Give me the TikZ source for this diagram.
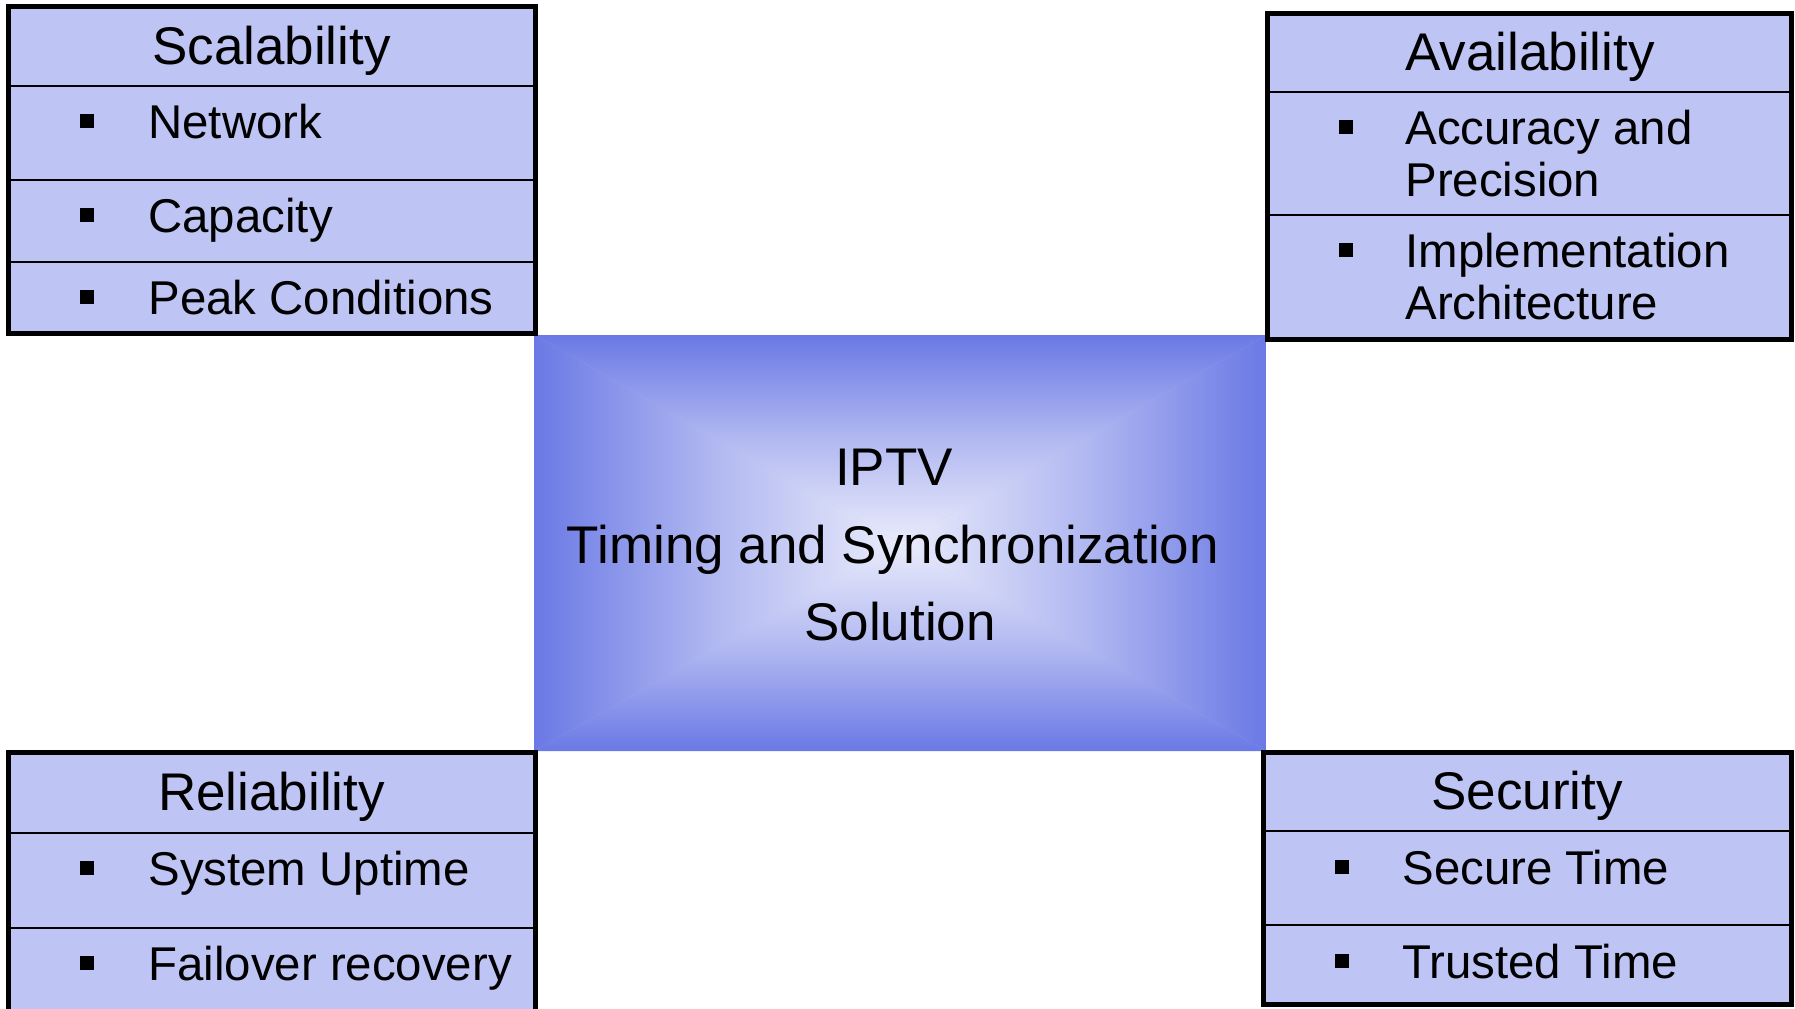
\documentclass[tikz,border=0pt]{standalone}
\usepackage{fontspec}
\setmainfont{Liberation Sans}
\definecolor{boxfill}{RGB}{190,196,243}
\definecolor{edgeblue}{RGB}{106,121,229}
\definecolor{midblue}{RGB}{178,185,241}
\definecolor{centerblue}{RGB}{234,236,251}
\tikzset{
  card/.style={draw=black, line width=2.5pt, fill=boxfill},
  divider/.style={draw=black, line width=1.2pt},
  ttl/.style={font=\fontsize{26.5pt}{30pt}\selectfont, anchor=base, inner sep=0pt},
  itm/.style={font=\fontsize{23.7pt}{28pt}\selectfont, anchor=base west, inner sep=0pt},
  ctext/.style={font=\fontsize{26.5pt}{30pt}\selectfont, anchor=base, inner sep=0pt},
  bul/.style={fill=black, rectangle, minimum size=7pt, inner sep=0pt},
}
\begin{document}
\begin{tikzpicture}[x=0.5pt, y=-0.5pt]
\useasboundingbox (0,0) rectangle (1795,1008);
\clip (0,0) rectangle (1795,1008);

% ---- centre box with rectangular gradient ----
\coordinate (cTL) at (534.5,335);
\coordinate (cTR) at (1266,335);
\coordinate (cBL) at (534.5,751);
\coordinate (cBR) at (1266,751);
\coordinate (cC) at (900.25,543);
\fill[midblue] (cTL) rectangle (cBR);
\begin{scope}
  \clip (cTL) -- (cTR) -- (cC) -- cycle;
  \shade[top color=edgeblue, bottom color=centerblue, middle color=midblue] (534.5,335) rectangle (1266,544);
\end{scope}
\begin{scope}
  \clip (cBL) -- (cBR) -- (cC) -- cycle;
  \shade[top color=centerblue, bottom color=edgeblue, middle color=midblue] (534.5,542) rectangle (1266,751);
\end{scope}
\begin{scope}
  \clip (cTL) -- (cBL) -- (cC) -- cycle;
  \shade[left color=edgeblue, right color=centerblue, middle color=midblue] (534.5,335) rectangle (901,751);
\end{scope}
\begin{scope}
  \clip (cTR) -- (cBR) -- (cC) -- cycle;
  \shade[left color=centerblue, right color=edgeblue, middle color=midblue] (899.5,335) rectangle (1266,751);
\end{scope}
\node[ctext] (c1) at (894,485) {IPTV};
\node[ctext] (c2) at (893,563) {Timing and Synchronization};
\node[ctext] (c3) at (900,640) {Solution};

% ---- Scalability (top left) ----
\draw[card] (8,6.5) rectangle (535,333.5);
\draw[divider] (8,86) -- (535,86);
\draw[divider] (8,180) -- (535,180);
\draw[divider] (8,262) -- (535,262);
\node[ttl] (s0) at (271.5,64) {Scalability};
\node[bul] (sb1) at (87,120.5) {};
\node[itm] (s1) at (148,138) {Network};
\node[bul] (sb2) at (87,214.5) {};
\node[itm] (s2) at (148,232) {Capacity};
\node[bul] (sb3) at (87,296.5) {};
\node[itm] (s3) at (148,314) {Peak Conditions};

% ---- Availability (top right) ----
\draw[card] (1267,13) rectangle (1791,339);
\draw[divider] (1267,92) -- (1791,92);
\draw[divider] (1267,215) -- (1791,215);
\node[ttl] (a0) at (1530,70) {Availability};
\node[bul] (ab1) at (1346,127) {};
\node[itm] (a1) at (1405,144) {Accuracy and};
\node[itm] (a1b) at (1405,196) {Precision};
\node[bul] (ab2) at (1346,250) {};
\node[itm] (a2) at (1405,267) {Implementation};
\node[itm] (a2b) at (1405,319) {Architecture};

% ---- Reliability (bottom left) ----
\draw[card] (8,752) rectangle (535,1040);
\draw[divider] (8,833) -- (535,833);
\draw[divider] (8,928) -- (535,928);
\node[ttl] (r0) at (271.5,810) {Reliability};
\node[bul] (rb1) at (87,867.5) {};
\node[itm] (r1) at (148,885) {System Uptime};
\node[bul] (rb2) at (87,962.5) {};
\node[itm] (r2) at (148,980) {Failover recovery};

% ---- Security (bottom right) ----
\draw[card] (1263,752) rectangle (1791,1004);
\draw[divider] (1263,831) -- (1791,831);
\draw[divider] (1263,925) -- (1791,925);
\node[ttl] (e0) at (1527,809) {Security};
\node[bul] (eb1) at (1342,866.5) {};
\node[itm] (e1) at (1402,884) {Secure Time};
\node[bul] (eb2) at (1342,960.5) {};
\node[itm] (e2) at (1402,978) {Trusted Time};
\end{tikzpicture}
\end{document}
